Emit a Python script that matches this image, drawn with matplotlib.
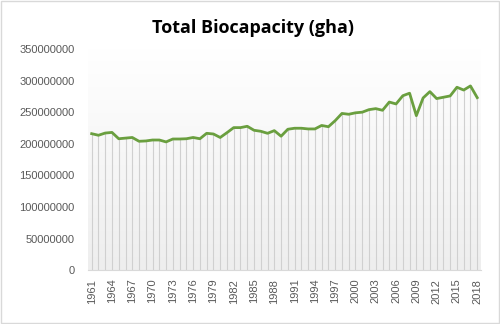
import numpy as np
import matplotlib

matplotlib.use("Agg")
import matplotlib.pyplot as plt  # noqa: E402
from matplotlib.patches import Rectangle  # noqa: E402

years = list(range(1961, 2019))
biocapacity = [
    216e6, 213.5e6, 217e6, 218e6, 208e6, 209e6, 210e6, 204e6, 204.5e6, 206e6,
    206e6, 203e6, 207.6e6, 207.6e6, 208e6, 210e6, 208e6, 216.6e6, 215.5e6, 210e6,
    217.6e6, 225.6e6, 225.6e6, 227.7e6, 221.4e6, 219.8e6, 216.6e6, 220.8e6, 212e6, 223e6,
    224.6e6, 224.6e6, 223.5e6, 223.5e6, 229e6, 227e6, 236.6e6, 248e6, 246.7e6, 249e6,
    250e6, 254e6, 255.6e6, 253e6, 266e6, 263e6, 276e6, 280e6, 244.5e6, 272.5e6,
    282.5e6, 271.5e6, 273.6e6, 275.7e6, 289.4e6, 285e6, 291.5e6, 273e6,
]
y_ticks = list(range(0, 350000001, 50000000))
x_tick_years = years[::3]

GREEN = "#6a9f3f"
GREY_TEXT = "#595959"

fig = plt.figure(figsize=(5.0, 3.24), dpi=100)
fig.patches.append(Rectangle((0.002, 0.003), 0.996, 0.994, transform=fig.transFigure,
                             fill=False, edgecolor="#d9d9d9", lw=1))
ax = fig.add_axes([0.1766, 0.1657, 0.7846, 0.6833])

# plot-area gradient: white at top, light grey at bottom
grad = np.linspace(1.0, 0.0, 256).reshape(-1, 1)
ax.imshow(grad, cmap=matplotlib.colors.LinearSegmentedColormap.from_list(
    "bg", ["#eeeeee", "#ffffff"]), aspect="auto",
    extent=(years[0] - 0.5, years[-1] + 0.5, 0, 350e6), zorder=0, vmin=0, vmax=1)

ax.vlines(years, 0, biocapacity, colors="#d0d0d0", lw=0.8, zorder=1)
ax.plot(years, biocapacity, color=GREEN, lw=2.0, zorder=3, solid_joinstyle="round")

ax.set_xlim(years[0] - 0.5, years[-1] + 0.5)
ax.set_ylim(0, 350e6)
ax.set_yticks(y_ticks)
ax.set_yticklabels([str(v) for v in y_ticks], fontsize=8, color=GREY_TEXT,
                   family="Liberation Sans")
ax.set_xticks(x_tick_years)
ax.set_xticklabels([str(y) for y in x_tick_years], rotation=90, fontsize=8,
                   color=GREY_TEXT, family="Liberation Sans")
ax.tick_params(axis="both", length=0, pad=6)
ax.tick_params(axis="y", pad=10)

for side in ("top", "right", "left"):
    ax.spines[side].set_visible(False)
ax.spines["bottom"].set_color("#d9d9d9")

fig.text(0.506, 0.915, "Total Biocapacity (gha)", ha="center", va="center",
         fontsize=13, fontweight="bold", family="Open Sans", color="#000000")

fig.savefig("out.png", dpi=100)
